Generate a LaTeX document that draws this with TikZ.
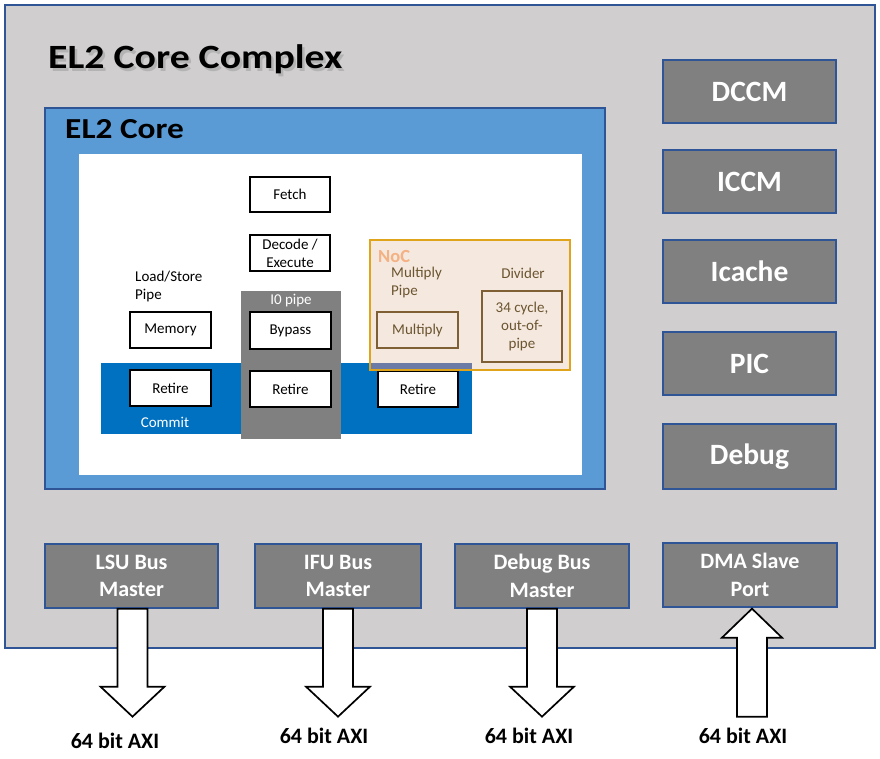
\documentclass[tikz,border=0pt]{standalone}
\usepackage{fontspec}
\setmainfont{Carlito}
\usetikzlibrary{calc}
\definecolor{cplxgray}{HTML}{D0CECE}
\definecolor{frameblue}{HTML}{2F5597}
\definecolor{coreblue}{HTML}{5B9BD5}
\definecolor{commitblue}{HTML}{0070C0}
\definecolor{blockgray}{HTML}{808080}
\definecolor{nocfill}{HTML}{F5E8DE}
\definecolor{nocedge}{HTML}{E0A41A}
\definecolor{noctext}{HTML}{F4B183}
\definecolor{brownline}{HTML}{7F6035}
\definecolor{browntext}{HTML}{6B5530}
\definecolor{overlapblue}{HTML}{6B7BA6}
\tikzset{
  stagebox/.style={draw=black, line width=1.2pt, fill=white, minimum width=81pt, minimum height=36pt, inner sep=0pt, font=\fontsize{15}{18}\selectfont, align=center},
  brownbox/.style={draw=brownline, line width=1.2pt, minimum width=81pt, minimum height=36pt, inner sep=0pt, text=browntext, font=\fontsize{15}{18}\selectfont, align=center},
  sidebox/.style={draw=frameblue, line width=1.3pt, fill=blockgray, minimum width=173pt, minimum height=63pt, inner sep=0pt, text=white, font=\bfseries\fontsize{29.5}{31}\selectfont, align=center},
  busbox/.style={draw=frameblue, line width=1.3pt, fill=blockgray, minimum height=64pt, inner sep=0pt, text=white, font=\bfseries\fontsize{22}{27.5}\selectfont, align=center},
  axilabel/.style={font=\bfseries\fontsize{22}{24}\selectfont, inner sep=0pt},
  smalltext/.style={font=\fontsize{15}{18}\selectfont, inner sep=0pt},
  arrowline/.style={draw=black, line width=1.7pt, fill=white, line join=miter},
  downarr/.pic={\path[arrowline] (-15,0) -- (-15,78) -- (-32,78) -- (0,108) -- (32,78) -- (15,78) -- (15,0) -- cycle;},
  uparr/.pic={\path[arrowline] (-15,0) -- (-15,-79) -- (-30,-79) -- (0,-108) -- (30,-79) -- (15,-79) -- (15,0) -- cycle;}
}
\begin{document}
\begin{tikzpicture}[x=1pt,y=-1pt]
\useasboundingbox (0,0) rectangle (880,758);
\fill[white] (0,0) rectangle (880,758);
% outer complex
\draw[frameblue, line width=1.3pt, fill=cplxgray] (5,5) rectangle (875,648);
\node[anchor=base west, inner sep=0pt, text=black!40, opacity=0.5, xscale=1.17, font=\bfseries\fontsize{34}{36}\selectfont] at (50.5,71) {EL2 Core Complex};
\node (title) [anchor=base west, inner sep=0pt, xscale=1.17, font=\bfseries\fontsize{34}{36}\selectfont] at (48,68) {EL2 Core Complex};
% core
\draw[frameblue, line width=1.3pt, fill=coreblue] (45,108) rectangle (605,489);
\node (coretitle) [anchor=base west, inner sep=0pt, xscale=1.15, font=\bfseries\fontsize{29}{31}\selectfont] at (65,138.5) {EL2 Core};
\fill[white] (79,154) rectangle (582,475);
% commit band
\fill[commitblue] (101,363) rectangle (472,434);
\node (commit) [smalltext, text=white] at (165,422) {Commit};
% I0 pipe
\fill[blockgray] (241,291) rectangle (341,439);
\node (i0) [smalltext, text=white] at (291,301) {I0 pipe};
% stages
\node (fetch) [stagebox, minimum width=80pt, minimum height=35pt] at (290,194.5) {Fetch};
\node (decode) [stagebox, minimum width=80pt] at (290,253) {Decode /\\Execute};
\node (bypass) [stagebox, minimum height=37pt] at (290.5,330.5) {Bypass};
\node (retire2) [stagebox] at (290.5,389) {Retire};
\node (memory) [stagebox] at (170.5,330) {Memory};
\node (retire1) [stagebox] at (170.5,388) {Retire};
\node (retire3) [stagebox, minimum width=80pt] at (418,389) {Retire};
\node (lsp) [smalltext, anchor=west, align=left] at (135,286) {Load/Store\\Pipe};
% NoC
\fill[nocfill] (370,240) rectangle (570,370);
\fill[overlapblue] (370,363) rectangle (472,370);
\draw[nocedge, line width=1.4pt] (370,240) rectangle (570,370);
\node (noc) [anchor=west, inner sep=0pt, text=noctext, font=\bfseries\fontsize{18.5}{20}\selectfont] at (378,256) {NoC};
\node (mulpipe) [smalltext, anchor=west, align=left, text=browntext] at (391,282) {Multiply\\Pipe};
\node (divider) [smalltext, text=browntext] at (523,273) {Divider};
\node (multiply) [brownbox] at (417.5,330) {Multiply};
\node (divbox) [brownbox, minimum width=80pt, minimum height=71pt] at (522,326.5) {34 cycle,\\out-of-\\pipe};
% side blocks
\node (dccm) [sidebox] at (749.5,91.5) {DCCM};
\node (iccm) [sidebox] at (749.5,181.5) {ICCM};
\node (icache) [sidebox] at (749.5,271.5) {Icache};
\node (pic) [sidebox] at (749.5,363.5) {PIC};
\node (debug) [sidebox, minimum height=65pt] at (749.5,456.5) {Debug};
% bus blocks
\node (lsu) [busbox, minimum width=173pt] at (131.5,576) {LSU Bus\\Master};
\node (ifu) [busbox, minimum width=166pt] at (338,576) {IFU Bus\\Master};
\node (dbgbus) [busbox, minimum width=174pt] at (542,576) {Debug Bus\\Master};
\node (dma) [busbox, minimum width=174pt] at (750,575) {DMA Slave\\Port};
% arrows
\pic at ($(lsu.south)+(1,0)$) {downarr};
\pic at (ifu.south) {downarr};
\pic at (dbgbus.south) {downarr};
\pic at ($(dma.south)+(2,109)$) {uparr};
% labels
\node (axi1) [axilabel] at (115,741) {64 bit AXI};
\node (axi2) [axilabel] at (324,736) {64 bit AXI};
\node (axi3) [axilabel] at (529,736) {64 bit AXI};
\node (axi4) [axilabel] at (743,736) {64 bit AXI};
\end{tikzpicture}
\end{document}
